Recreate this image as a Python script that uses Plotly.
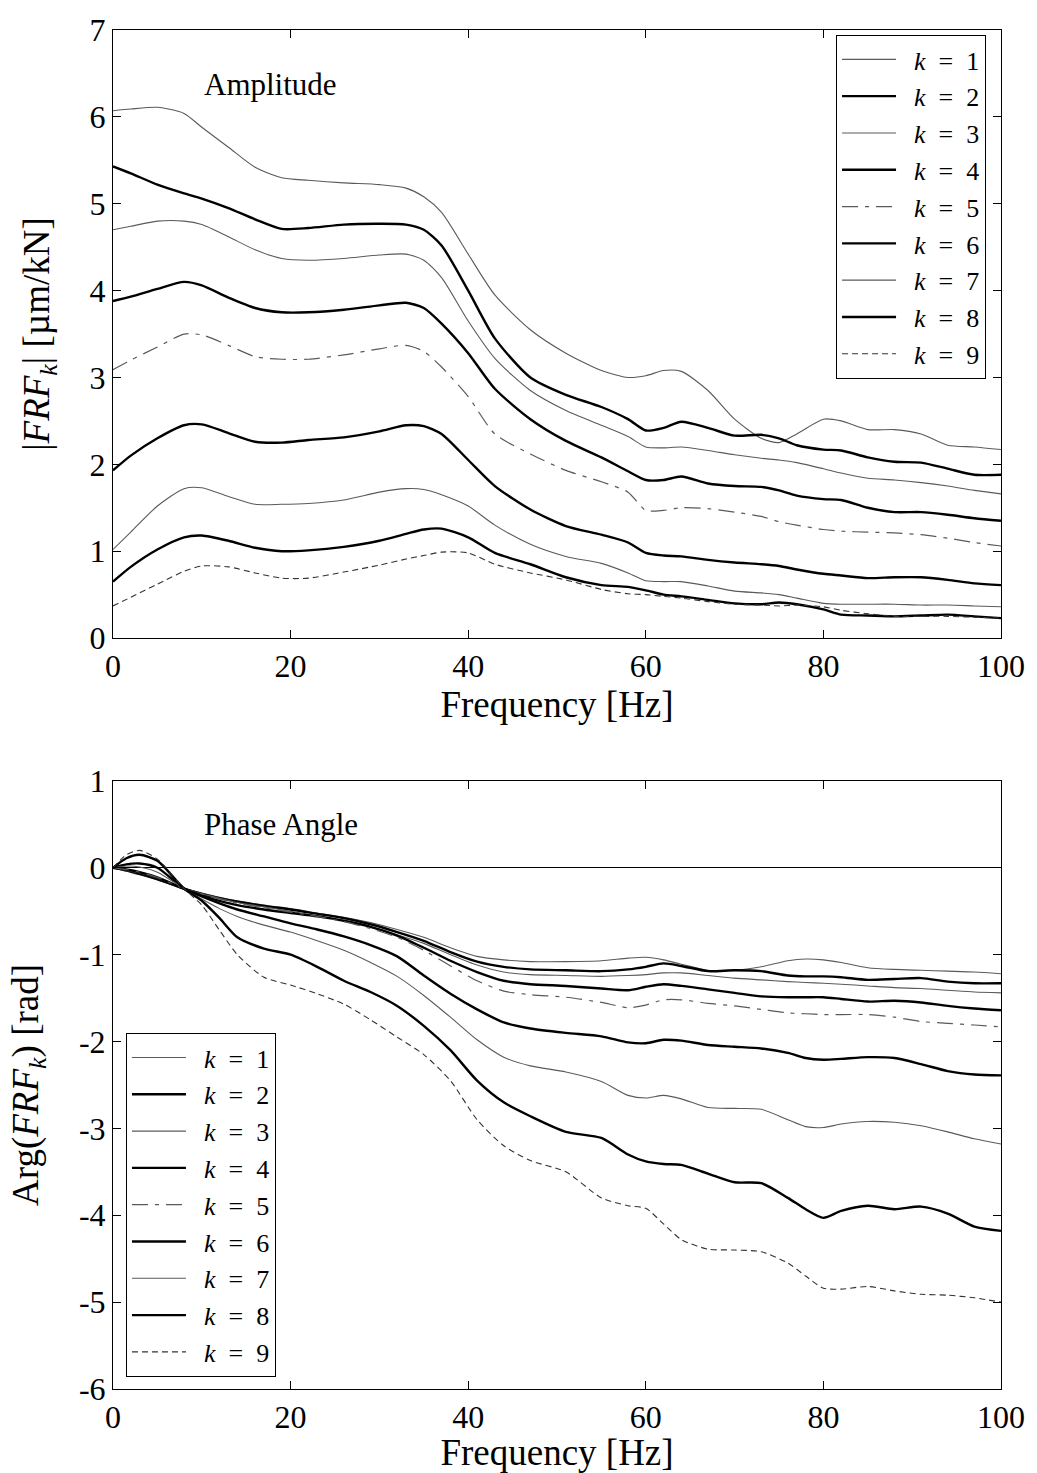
import plotly.graph_objects as go

# ---------------- data ----------------
freq_amp = [0, 2, 5, 8, 10, 13, 16, 19, 22, 26, 30, 33, 35, 37, 40, 43, 47, 51, 55, 58,
            60, 62, 64, 67, 70, 73, 75, 77, 80, 82, 85, 88, 91, 94, 97, 100]

amp_k1 = [6.07, 6.09, 6.11, 6.04, 5.88, 5.65, 5.42, 5.30, 5.27, 5.24, 5.22, 5.18, 5.08, 4.90, 4.42, 3.95, 3.55, 3.28, 3.08, 3.00,
          3.02, 3.08, 3.07, 2.85, 2.52, 2.30, 2.25, 2.35, 2.52, 2.50, 2.40, 2.40, 2.35, 2.22, 2.20, 2.17]
amp_k2 = [5.43, 5.35, 5.22, 5.12, 5.06, 4.95, 4.82, 4.71, 4.72, 4.76, 4.77, 4.76, 4.70, 4.52, 4.00, 3.45, 3.00, 2.80, 2.66, 2.52,
          2.39, 2.42, 2.49, 2.42, 2.33, 2.34, 2.30, 2.22, 2.17, 2.16, 2.08, 2.03, 2.02, 1.95, 1.88, 1.88]
amp_k3 = [4.70, 4.74, 4.80, 4.80, 4.76, 4.62, 4.47, 4.37, 4.35, 4.37, 4.41, 4.42, 4.35, 4.15, 3.65, 3.22, 2.85, 2.62, 2.45, 2.32,
          2.20, 2.19, 2.20, 2.16, 2.11, 2.07, 2.05, 2.02, 1.95, 1.90, 1.84, 1.82, 1.79, 1.75, 1.70, 1.66]
amp_k4 = [3.88, 3.93, 4.02, 4.10, 4.06, 3.92, 3.80, 3.75, 3.75, 3.78, 3.83, 3.86, 3.80, 3.62, 3.28, 2.87, 2.52, 2.27, 2.08, 1.92,
          1.82, 1.82, 1.86, 1.78, 1.75, 1.74, 1.70, 1.64, 1.60, 1.59, 1.50, 1.45, 1.45, 1.42, 1.38, 1.35]
amp_k5 = [3.09, 3.20, 3.35, 3.50, 3.49, 3.37, 3.24, 3.21, 3.21, 3.26, 3.33, 3.37, 3.30, 3.12, 2.78, 2.35, 2.12, 1.93, 1.80, 1.68,
          1.47, 1.47, 1.50, 1.49, 1.45, 1.40, 1.34, 1.30, 1.25, 1.23, 1.22, 1.21, 1.19, 1.15, 1.10, 1.06]
amp_k6 = [1.93, 2.10, 2.30, 2.45, 2.46, 2.36, 2.26, 2.25, 2.28, 2.31, 2.38, 2.45, 2.44, 2.35, 2.05, 1.75, 1.48, 1.29, 1.19, 1.10,
          0.98, 0.95, 0.94, 0.90, 0.87, 0.85, 0.83, 0.79, 0.74, 0.72, 0.69, 0.70, 0.70, 0.67, 0.63, 0.61]
amp_k7 = [1.02, 1.22, 1.52, 1.72, 1.73, 1.63, 1.54, 1.54, 1.55, 1.59, 1.68, 1.72, 1.71, 1.65, 1.52, 1.30, 1.08, 0.94, 0.86, 0.75,
          0.66, 0.65, 0.65, 0.60, 0.54, 0.52, 0.50, 0.46, 0.40, 0.39, 0.39, 0.39, 0.38, 0.38, 0.37, 0.36]
amp_k8 = [0.65, 0.82, 1.02, 1.16, 1.18, 1.12, 1.04, 1.00, 1.01, 1.05, 1.12, 1.20, 1.25, 1.26, 1.16, 0.98, 0.85, 0.70, 0.61, 0.59,
          0.55, 0.50, 0.48, 0.44, 0.40, 0.39, 0.41, 0.39, 0.33, 0.27, 0.26, 0.25, 0.26, 0.27, 0.25, 0.23]
amp_k9 = [0.37, 0.47, 0.62, 0.77, 0.83, 0.82, 0.75, 0.69, 0.69, 0.76, 0.84, 0.91, 0.95, 0.99, 0.98, 0.85, 0.75, 0.67, 0.56, 0.51,
          0.50, 0.48, 0.46, 0.42, 0.39, 0.38, 0.37, 0.38, 0.36, 0.32, 0.28, 0.25, 0.25, 0.25, 0.24, 0.23]

freq_ph = [0, 1.5, 3, 5, 8, 10, 12, 14, 17, 20, 23, 26, 29, 32, 35, 38, 41, 44, 47, 51, 55, 58,
           60, 62, 64, 67, 70, 73, 76, 78, 80, 82, 85, 88, 91, 94, 97, 100]

ph_k1 = [0, -0.04, -0.08, -0.14, -0.24, -0.29, -0.34, -0.38, -0.43, -0.47, -0.52, -0.57, -0.63, -0.71, -0.80, -0.92, -1.02, -1.06, -1.08, -1.08, -1.07, -1.04,
         -1.03, -1.06, -1.11, -1.18, -1.18, -1.14, -1.07, -1.05, -1.06, -1.09, -1.15, -1.17, -1.18, -1.19, -1.20, -1.22]
ph_k2 = [0, -0.03, -0.07, -0.13, -0.24, -0.30, -0.35, -0.39, -0.44, -0.48, -0.53, -0.58, -0.65, -0.74, -0.84, -0.97, -1.08, -1.14, -1.17, -1.18, -1.19, -1.17,
         -1.14, -1.10, -1.13, -1.19, -1.18, -1.19, -1.24, -1.25, -1.25, -1.26, -1.29, -1.28, -1.27, -1.31, -1.33, -1.33]
ph_k3 = [0, -0.03, -0.06, -0.12, -0.24, -0.30, -0.35, -0.40, -0.45, -0.50, -0.55, -0.61, -0.68, -0.77, -0.87, -1.00, -1.12, -1.20, -1.23, -1.24, -1.25, -1.24,
         -1.23, -1.21, -1.21, -1.24, -1.27, -1.29, -1.31, -1.32, -1.33, -1.34, -1.36, -1.38, -1.39, -1.41, -1.43, -1.44]
ph_k4 = [0, -0.02, -0.05, -0.11, -0.24, -0.32, -0.38, -0.43, -0.48, -0.52, -0.56, -0.61, -0.68, -0.78, -0.92, -1.07, -1.20, -1.30, -1.34, -1.36, -1.39, -1.41,
         -1.37, -1.34, -1.36, -1.40, -1.44, -1.48, -1.49, -1.49, -1.49, -1.51, -1.54, -1.53, -1.55, -1.59, -1.62, -1.64]
ph_k5 = [0, -0.02, -0.05, -0.11, -0.24, -0.30, -0.36, -0.41, -0.46, -0.51, -0.56, -0.62, -0.70, -0.80, -0.95, -1.13, -1.30, -1.42, -1.46, -1.49, -1.55, -1.61,
         -1.58, -1.52, -1.52, -1.56, -1.59, -1.63, -1.67, -1.68, -1.69, -1.69, -1.69, -1.72, -1.77, -1.79, -1.81, -1.83]
ph_k6 = [0, 0.04, 0.05, 0.00, -0.24, -0.33, -0.41, -0.48, -0.56, -0.64, -0.71, -0.79, -0.89, -1.02, -1.24, -1.45, -1.63, -1.78, -1.85, -1.90, -1.94, -2.01,
         -2.02, -1.98, -1.99, -2.04, -2.06, -2.08, -2.13, -2.19, -2.21, -2.20, -2.18, -2.19, -2.26, -2.34, -2.38, -2.39]
ph_k7 = [0, 0.02, 0.01, -0.05, -0.24, -0.36, -0.47, -0.56, -0.66, -0.74, -0.84, -0.95, -1.09, -1.25, -1.47, -1.72, -1.98, -2.18, -2.28, -2.35, -2.46, -2.62,
         -2.65, -2.62, -2.66, -2.76, -2.77, -2.78, -2.90, -2.98, -2.99, -2.95, -2.92, -2.93, -2.97, -3.04, -3.12, -3.18]
ph_k8 = [0, 0.11, 0.15, 0.08, -0.24, -0.38, -0.58, -0.80, -0.93, -1.00, -1.14, -1.30, -1.43, -1.59, -1.82, -2.10, -2.45, -2.70, -2.86, -3.04, -3.11, -3.30,
         -3.38, -3.41, -3.42, -3.52, -3.62, -3.63, -3.80, -3.93, -4.03, -3.95, -3.89, -3.93, -3.90, -3.98, -4.13, -4.18]
ph_k9 = [0, 0.15, 0.20, 0.10, -0.24, -0.43, -0.72, -1.00, -1.26, -1.35, -1.45, -1.57, -1.75, -1.95, -2.15, -2.45, -2.90, -3.20, -3.37, -3.50, -3.80, -3.89,
         -3.92, -4.10, -4.28, -4.39, -4.40, -4.42, -4.55, -4.70, -4.84, -4.85, -4.82, -4.87, -4.91, -4.92, -4.95, -5.00]

k_values = [1, 2, 3, 4, 5, 6, 7, 8, 9]
amp_series = [amp_k1, amp_k2, amp_k3, amp_k4, amp_k5, amp_k6, amp_k7, amp_k8, amp_k9]
ph_series = [ph_k1, ph_k2, ph_k3, ph_k4, ph_k5, ph_k6, ph_k7, ph_k8, ph_k9]

x_ticks = [0, 20, 40, 60, 80, 100]
x_ticktext = ["0", "20", "40", "60", "80", "100"]
amp_ticks = [0, 1, 2, 3, 4, 5, 6, 7]
amp_ticktext = ["0", "1", "2", "3", "4", "5", "6", "7"]
ph_ticks = [-6, -5, -4, -3, -2, -1, 0, 1]
ph_ticktext = ["-6", "-5", "-4", "-3", "-2", "-1", "0", "1"]

# ---------------- styles ----------------
THIN = dict(color="#5a5a5a", width=1.1)
THICK = dict(color="black", width=2.4)
styles = [
    dict(THIN, dash="solid"),
    dict(THICK, dash="solid"),
    dict(THIN, dash="solid"),
    dict(THICK, dash="solid"),
    dict(color="#5a5a5a", width=1.2, dash="16px,7px,4px,7px"),
    dict(THICK, dash="solid"),
    dict(THIN, dash="solid"),
    dict(THICK, dash="solid"),
    dict(color="#333333", width=1.1, dash="6px,4px"),
]

FONT = "Liberation Serif, Times New Roman, serif"


def legend_label(k):
    return "&nbsp;&nbsp;<i>k</i>&nbsp; = &nbsp;%d" % k


fig = go.Figure()
for k, vals, st in zip(k_values, amp_series, styles):
    fig.add_trace(go.Scatter(x=freq_amp, y=vals, mode="lines", name=legend_label(k),
                             line=dict(shape="spline", smoothing=0.7, **st),
                             xaxis="x", yaxis="y", legend="legend"))
for k, vals, st in zip(k_values, ph_series, styles):
    fig.add_trace(go.Scatter(x=freq_ph, y=vals, mode="lines", name=legend_label(k),
                             line=dict(shape="spline", smoothing=0.7, **st),
                             xaxis="x2", yaxis="y2", legend="legend2"))

axis_common = dict(showline=True, linecolor="black", linewidth=1, mirror="ticks",
                   ticks="inside", ticklen=8, tickcolor="black", tickwidth=1,
                   showgrid=False, tickfont=dict(family=FONT, size=32, color="black"))
TITLE_FONT = dict(family=FONT, size=37, color="black")
LEG_FONT = dict(family=FONT, size=26, color="black")

W, H = 1037, 1473
L, R, T, B = 113, 33, 20, 83
ph_h = H - T - B
pw = W - L - R
top_dom = [1 - (633 - T) / ph_h, 1]
bot_dom = [0, 1 - (777 - T) / ph_h]

fig.update_layout(
    width=W, height=H,
    margin=dict(l=L, r=R, t=T, b=B),
    paper_bgcolor="white", plot_bgcolor="white",
    font=dict(family=FONT, size=31, color="black"),
    xaxis=dict(axis_common, domain=[0, 1], anchor="y", range=[0, 100],
               tickvals=x_ticks, ticktext=x_ticktext, zeroline=False,
               title=dict(text="Frequency [Hz]", font=TITLE_FONT, standoff=0)),
    yaxis=dict(axis_common, domain=top_dom, anchor="x", range=[0, 7],
               tickvals=amp_ticks, ticktext=amp_ticktext, zeroline=False,
               title=dict(text="|<i>FRF</i><sub><i>k</i></sub>| [µm/kN]", font=TITLE_FONT, standoff=28)),
    xaxis2=dict(axis_common, domain=[0, 1], anchor="y2", range=[0, 100],
                tickvals=x_ticks, ticktext=x_ticktext, zeroline=False,
                title=dict(text="Frequency [Hz]", font=TITLE_FONT, standoff=0)),
    yaxis2=dict(axis_common, domain=bot_dom, anchor="x2", range=[-6, 1],
                tickvals=ph_ticks, ticktext=ph_ticktext,
                zeroline=True, zerolinecolor="black", zerolinewidth=1,
                title=dict(text="Arg(<i>FRF</i><sub><i>k</i></sub>) [rad]", font=TITLE_FONT, standoff=28)),
    legend=dict(x=(989 - L) / pw, xanchor="right", y=1 - (25 - T) / ph_h, yanchor="top",
                bgcolor="white", bordercolor="black", borderwidth=1, itemwidth=54,
                font=LEG_FONT, tracegroupgap=0),
    legend2=dict(x=(126 - L) / pw, xanchor="left", y=1 - (1378 - T) / ph_h, yanchor="bottom",
                 bgcolor="white", bordercolor="black", borderwidth=1, itemwidth=54,
                 font=LEG_FONT, tracegroupgap=0),
    annotations=[
        dict(text="Amplitude", x=10, y=6.37, xref="x", yref="y", xanchor="left", yanchor="middle",
             showarrow=False, font=dict(family=FONT, size=31, color="black")),
        dict(text="Phase Angle", x=10, y=0.5, xref="x2", yref="y2", xanchor="left", yanchor="middle",
             showarrow=False, font=dict(family=FONT, size=31, color="black")),
    ],
)

fig.write_html("out.html")
